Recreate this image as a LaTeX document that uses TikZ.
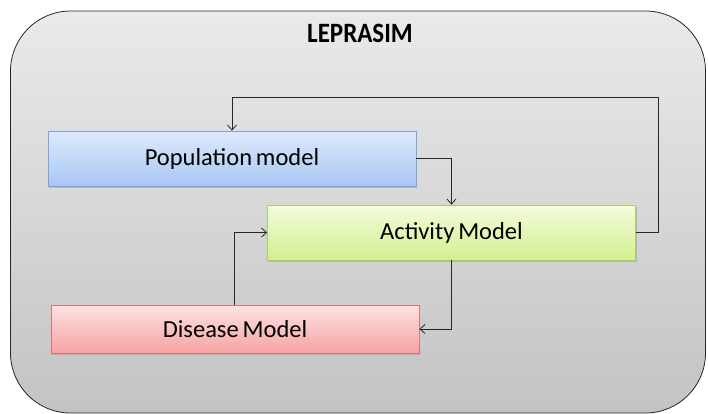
\documentclass[tikz,border=0pt]{standalone}
\usepackage{fontspec}
\setmainfont{Carlito}
\newfontfamily\boxfont{Carlito}[WordSpace=0.7]
\usetikzlibrary{arrows.meta,shadows}
\definecolor{frameTop}{HTML}{EAEAEA}
\definecolor{frameBot}{HTML}{C3C3C3}
\definecolor{popTop}{HTML}{DDE9FC}
\definecolor{popBot}{HTML}{A9C7F3}
\definecolor{popLine}{HTML}{7EA3D8}
\definecolor{actTop}{HTML}{F4FCDF}
\definecolor{actBot}{HTML}{D2EF8E}
\definecolor{actLine}{HTML}{A9CF66}
\definecolor{disTop}{HTML}{FDE3E3}
\definecolor{disBot}{HTML}{F5A2A2}
\definecolor{disLine}{HTML}{D77474}
\tikzset{
  modelbox/.style={draw, line width=0.8pt, minimum height=53pt, minimum width=368pt,
    font=\boxfont\fontsize{24.5}{28}\selectfont, inner sep=0pt,
    drop shadow={shadow xshift=1pt, shadow yshift=-2pt, opacity=0.35}},
  flow/.style={draw=black!85, line width=0.8pt, -{Straight Barb[length=5pt,width=9pt]}}
}
\begin{document}
\begin{tikzpicture}[x=1pt,y=-1pt]
  \useasboundingbox (0,0) rectangle (708,413);
  % outer frame
  \node[draw=black!85, line width=0.8pt, rounded corners=60pt, top color=frameTop,
    bottom color=frameBot, minimum width=695pt, minimum height=402pt, inner sep=0pt]
    (frame) at (358,212) {};
  \node[font=\bfseries\fontsize{25}{28}\selectfont, yscale=1.12] (title) at (360,33) {LEPRASIM};
  % model boxes
  \node[modelbox, top color=popTop, bottom color=popBot, draw=popLine,
    minimum height=55pt] (pop) at (232,158.5) {Population model};
  \node[modelbox, top color=actTop, bottom color=actBot, draw=actLine,
    minimum height=55pt] (act) at (451.5,232.5) {Activity Model};
  \node[modelbox, top color=disTop, bottom color=disBot, draw=disLine,
    minimum height=48pt] (dis) at (235,329) {Disease Model};
  % feedback and data flows
  \coordinate (fb1) at (658,232.5);
  \coordinate (fb2) at (658,97);
  \coordinate (fb3) at (232,97);
  \draw[flow] (act.east) -- (fb1) -- (fb2) -- (fb3) -- (pop.north);
  \draw[flow] (pop.east) -| (act.north);
  \draw[flow] (act.south) |- (dis.east);
  \draw[flow] (dis.north -| 234,0) |- (act.west);
\end{tikzpicture}
\end{document}
